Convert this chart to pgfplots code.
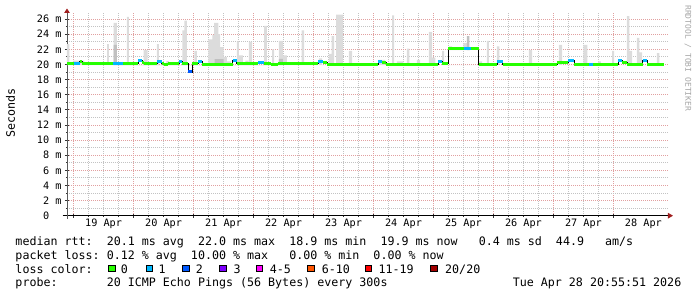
\documentclass[border=0pt]{standalone}
\usepackage{fontspec}
\setmainfont{DejaVu Sans Mono}
\setmonofont{DejaVu Sans Mono}
\usepackage{pgfplots}
\pgfplotsset{compat=1.18}
\usetikzlibrary{arrows.meta}
\definecolor{mgrid}{RGB}{225,160,160}
\definecolor{ngrid}{RGB}{195,195,195}
\definecolor{arrowred}{RGB}{160,30,30}
\definecolor{smoke}{RGB}{220,220,220}
\definecolor{smokedark}{RGB}{192,192,192}
\definecolor{lc0}{HTML}{26FF00}
\definecolor{lc1}{HTML}{00B8FF}
\definecolor{lc2}{HTML}{0059FF}
\definecolor{lc3}{HTML}{7E00FF}
\definecolor{lc5}{HTML}{FF00FF}
\definecolor{lc10}{HTML}{FF5500}
\definecolor{lc19}{HTML}{FF0000}
\definecolor{lc20}{HTML}{A10000}
\newcommand{\lgfont}{\fontsize{11.66}{14}\selectfont}
\newcommand{\tkfont}{\fontsize{10.2}{12}\selectfont}
\newcommand{\wmfont}{\fontsize{8}{9}\selectfont}
\begin{document}
\begin{tikzpicture}[x=1pt,y=1pt]
\begin{axis}[
  at={(67pt,81.3pt)}, anchor=south west,
  scale only axis, width=601pt, height=202.7pt,
  xmin=-0.11, xmax=9.91, ymin=0, ymax=26.8,
  axis lines=left,
  x axis line style={black, line width=0.9pt, shorten <=-4.3pt, shorten >=-5pt,
    -{Triangle[length=5pt,width=5.5pt,color=arrowred]}},
  y axis line style={gray!70!black, line width=0.9pt, shorten <=-3pt, shorten >=-4.5pt,
    -{Triangle[length=4.5pt,width=5.5pt,color=arrowred]}},
  xtick={0,1,...,9}, xticklabels={},
  minor x tick num=3,
  extra x ticks={0.5,1.5,2.5,3.5,4.5,5.5,6.5,7.5,8.5,9.5},
  extra x tick labels={19 Apr,20 Apr,21 Apr,22 Apr,23 Apr,24 Apr,25 Apr,26 Apr,27 Apr,28 Apr},
  extra x tick style={grid=none, major tick length=0pt},
  ytick={0,2,...,26},
  yticklabels={{0\phantom{\ m}},{2 m},{4 m},{6 m},{8 m},{10 m},{12 m},{14 m},{16 m},{18 m},{20 m},{22 m},{24 m},{26 m}},
  minor y tick num=1,
  grid=both,
  major grid style={mgrid, line width=0.8pt, dash pattern=on 1pt off 1pt},
  minor grid style={ngrid, line width=0.8pt, dash pattern=on 1pt off 1pt},
  tick align=center, major tick length=4pt, minor tick length=2pt,
  tick style={gray!40!black, line width=0.8pt},
  ticklabel style={font=\tkfont},
  ylabel={Seconds},
  ylabel style={font=\lgfont, at={(axis description cs:-0.094,0.507)}, anchor=center},
  unbounded coords=jump,
]
% smoke (light)
\addplot[const plot, fill=smoke, draw=none] coordinates {
(-0.11,19.9)(-0.11,22.7)(-0.072,19.9)(-0.005,20.5)(0.178,19.9)(0.557,22.7)(0.59,19.9)
(0.667,25.5)(0.723,19.9)(0.89,26.3)(0.923,19.9)(1.167,21.9)(1.233,19.9)(1.39,22.7)(1.423,19.9)
(1.545,20.45)(1.59,19.9)(1.812,24.5)(1.845,25.8)(1.89,19.9)(2.012,21.8)(2.057,19.9)
(2.245,23.3)(2.312,23.9)(2.345,25.5)(2.412,24.0)(2.445,22.3)(2.5,21.0)(2.557,20.4)(2.623,19.9)
(2.723,23.05)(2.757,21.2)(2.823,19.9)(2.862,20.5)(2.912,19.9)(2.923,23.0)(2.978,19.9)
(3.178,25.1)(3.223,19.9)(3.312,22.0)(3.345,19.9)(3.423,23.1)(3.49,21.2)(3.557,19.9)
(3.633,20.3)(3.678,19.9)(3.8,24.5)(3.845,19.9)(3.895,20.3)(3.945,19.9)(4.09,20.8)(4.145,19.9)
(4.257,21.4)(4.3,23.75)(4.345,19.9)(4.378,26.6)(4.49,19.9)(4.59,21.8)(4.645,19.9)
(5.083,20.6)(5.195,19.9)(5.312,26.5)(5.345,19.9)(5.39,20.4)(5.5,19.9)(5.557,22.1)(5.6,19.9)
(5.723,20.6)(5.778,19.9)(5.923,24.3)(5.978,20.9)(6.033,19.9)(6.145,21.8)(6.178,19.9)
(6.757,20.4)(6.812,19.9)(6.89,23.1)(6.923,19.9)(7.057,22.4)(7.1,19.9)(7.59,21.9)(7.645,19.9)
(8.09,22.6)(8.145,19.9)(8.5,22.6)(8.567,19.9)(8.745,20.4)(8.79,19.9)(8.978,21.8)(9.012,19.9)
(9.223,26.4)(9.267,21.8)(9.312,19.9)(9.39,23.5)(9.433,21.6)(9.478,19.9)(9.723,21.5)(9.767,19.9)
(9.845,19.9)};
% smoke on the 22 ms plateau
\addplot[const plot, fill=smoke, draw=none] coordinates {
(6.257,21.9)(6.257,22.4)(6.312,21.9)(6.5,22.8)(6.557,21.9)(6.6,21.9)};
% darker smoke
\addplot[const plot, fill=smokedark, draw=none] coordinates {
(0.667,19.9)(0.667,22.6)(0.723,19.9)(2.35,20.7)(2.5,19.9)(3.423,20.75)(3.49,19.9)(3.5,19.9)};
\addplot[const plot, fill=smokedark, draw=none] coordinates {
(6.557,21.9)(6.557,23.75)(6.6,21.9)(6.61,21.9)};
% median (black)
\addplot[const plot, black, line width=0.9pt] coordinates {
(-0.105,20.12)(0.0,20.1)(0.1,20.4)(0.145,20.1)(0.65,20.08)(0.817,20.1)(1.078,20.5)(1.145,20.25)
(1.178,20.1)(1.39,20.35)(1.467,20.1)(1.512,19.98)(1.567,20.08)(1.757,20.4)(1.812,20.1)
(1.912,19.0)(1.978,20.1)(2.078,20.45)(2.145,20.0)(2.65,20.55)(2.723,20.08)(3.078,20.3)
(3.178,20.1)(3.29,20.0)(3.4,20.08)(4.078,20.35)(4.157,20.2)(4.233,19.97)(4.678,20.05)
(5.078,20.45)(5.145,20.2)(5.212,20.0)(6.078,20.45)(6.145,20.1)(6.245,22.1)(6.757,20.0)
(7.067,20.4)(7.157,20.05)(8.067,20.3)(8.25,20.5)(8.345,19.97)(8.6,20.05)(9.078,20.5)
(9.145,20.2)(9.233,19.97)(9.49,20.5)(9.567,20.05)(9.845,20.05)};
% loss 0
\addplot[lc0, line width=3pt] coordinates {
(-0.105,20.12)(0.0,20.12)(0.0,nan)
(0.1,20.4)(0.145,20.4)(0.145,nan)(0.145,20.1)(0.65,20.1)(0.65,nan)
(0.817,20.1)(1.078,20.1)(1.078,nan)
(1.145,20.25)(1.178,20.25)(1.178,nan)(1.178,20.1)(1.39,20.1)(1.39,nan)
(1.467,20.1)(1.512,20.1)(1.512,nan)(1.512,19.98)(1.567,19.98)(1.567,nan)(1.567,20.08)(1.757,20.08)(1.757,nan)
(1.812,20.1)(1.912,20.1)(1.912,nan)
(1.978,20.1)(2.078,20.1)(2.078,nan)
(2.145,20.0)(2.65,20.0)(2.65,nan)
(2.723,20.08)(3.078,20.08)(3.078,nan)
(3.178,20.1)(3.29,20.1)(3.29,nan)(3.29,20.0)(3.4,20.0)(3.4,nan)(3.4,20.08)(4.078,20.08)(4.078,nan)
(4.157,20.2)(4.233,20.2)(4.233,nan)(4.233,19.97)(4.678,19.97)(4.678,nan)(4.678,20.05)(5.078,20.05)(5.078,nan)
(5.145,20.2)(5.212,20.2)(5.212,nan)(5.212,20.0)(6.078,20.0)(6.078,nan)
(6.145,20.1)(6.245,20.1)(6.245,nan)
(6.245,22.1)(6.512,22.1)(6.512,nan)
(6.633,22.1)(6.757,22.1)(6.757,nan)
(6.757,20.0)(7.067,20.0)(7.067,nan)
(7.157,20.05)(8.067,20.05)(8.067,nan)(8.067,20.3)(8.25,20.3)(8.25,nan)
(8.345,19.97)(8.6,19.97)(8.6,nan)
(8.657,20.05)(9.078,20.05)(9.078,nan)
(9.145,20.2)(9.233,20.2)(9.233,nan)(9.233,19.97)(9.49,19.97)(9.49,nan)
(9.567,20.05)(9.845,20.05)};
% loss 1
\addplot[lc1, line width=3pt] coordinates {
(0.0,20.1)(0.1,20.1)(0.1,nan)
(0.65,20.08)(0.817,20.08)(0.817,nan)
(1.078,20.5)(1.145,20.5)(1.145,nan)
(1.39,20.35)(1.467,20.35)(1.467,nan)
(1.757,20.4)(1.812,20.4)(1.812,nan)
(2.078,20.45)(2.145,20.45)(2.145,nan)
(2.65,20.55)(2.723,20.55)(2.723,nan)
(3.078,20.3)(3.178,20.3)(3.178,nan)
(4.078,20.35)(4.157,20.35)(4.157,nan)
(5.078,20.45)(5.145,20.45)(5.145,nan)
(6.078,20.45)(6.145,20.45)(6.145,nan)
(6.512,22.1)(6.633,22.1)(6.633,nan)
(7.067,20.4)(7.157,20.4)(7.157,nan)
(8.25,20.5)(8.345,20.5)(8.345,nan)
(8.6,20.05)(8.657,20.05)(8.657,nan)
(9.078,20.5)(9.145,20.5)(9.145,nan)
(9.49,20.5)(9.567,20.5)};
% loss 2
\addplot[lc2, line width=3pt] coordinates {(1.912,19.0)(1.978,19.0)};
\end{axis}
% legend text
\begin{scope}[every node/.style={inner sep=0pt, anchor=base west, font=\lgfont}]
\node at (15.3pt,51.7pt) {median\ rtt:\ \ 20.1\ ms\ avg\ \ 22.0\ ms\ max\ \ 18.9\ ms\ min\ \ 19.9\ ms\ now\ \ \ 0.4\ ms\ sd\ \ 44.9\ \ \ am/s};
\node at (15.3pt,37.8pt) {packet\ loss:\ 0.12\ \%\ avg\ \ 10.00\ \%\ max\ \ \ 0.00\ \%\ min\ \ 0.00\ \%\ now};
\node at (15.3pt,23.9pt) {loss\ color:};
\node at (15.3pt,10.0pt) {probe:\ \ \ \ \ \ \ 20\ ICMP\ Echo\ Pings\ (56\ Bytes)\ every\ 300s};
\node[anchor=base east] at (681.5pt,10.0pt) {Tue\ Apr\ 28\ 20:55:51\ 2026};
\node at (120.7pt,23.9pt) {0};
\node at (158.3pt,23.9pt) {1};
\node at (195.7pt,23.9pt) {2};
\node at (233.3pt,23.9pt) {3};
\node at (269.7pt,23.9pt) {4-5};
\node at (321.7pt,23.9pt) {6-10};
\node at (378.3pt,23.9pt) {11-19};
\node at (445.0pt,23.9pt) {20/20};
\end{scope}
\begin{scope}[line width=0.7pt]
\filldraw[fill=lc0,draw=black] (108.7pt,25.3pt) rectangle ++(6.7pt,6.7pt);
\filldraw[fill=lc1,draw=black] (146.0pt,25.3pt) rectangle ++(6.7pt,6.7pt);
\filldraw[fill=lc2,draw=black] (182.7pt,25.3pt) rectangle ++(6.7pt,6.7pt);
\filldraw[fill=lc3,draw=black] (219.3pt,25.3pt) rectangle ++(6.7pt,6.7pt);
\filldraw[fill=lc5,draw=black] (256.0pt,25.3pt) rectangle ++(6.7pt,6.7pt);
\filldraw[fill=lc10,draw=black] (307.3pt,25.3pt) rectangle ++(6.7pt,6.7pt);
\filldraw[fill=lc19,draw=black] (365.0pt,25.3pt) rectangle ++(6.7pt,6.7pt);
\filldraw[fill=lc20,draw=black] (430.7pt,25.3pt) rectangle ++(6.7pt,6.7pt);
\end{scope}
\node[rotate=-90, anchor=west, inner sep=0pt, font=\wmfont, text=black!35] at (688pt,292pt) {RRDTOOL\ /\ TOBI\ OETIKER};
\pgfresetboundingbox
\path[use as bounding box] (0,0) rectangle (697pt,297pt);
\end{tikzpicture}
\end{document}
